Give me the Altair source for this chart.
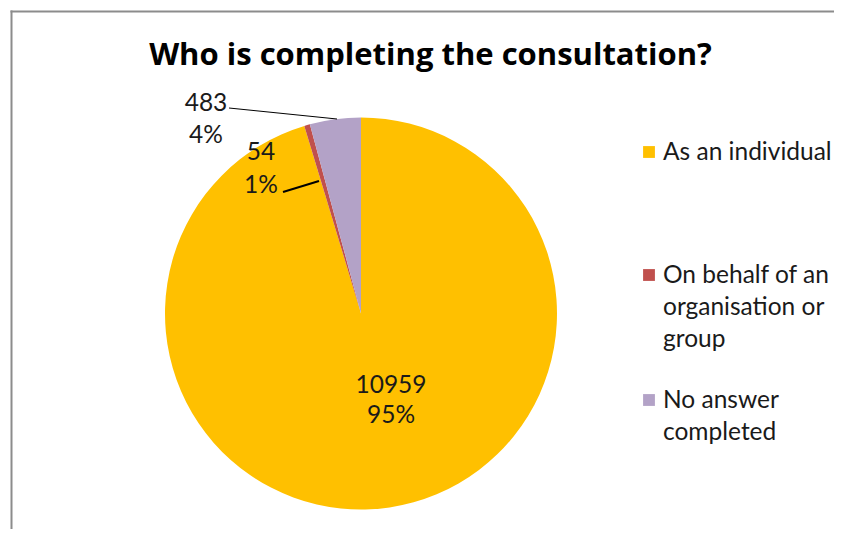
import altair as alt
import pandas as pd

# ---- data ----
categories = ["As an individual", "On behalf of an organisation or group", "No answer completed"]
counts = [10959, 54, 483]
pct_labels = ["95%", "1%", "4%"]
legend_lines = [["As an individual"], ["On behalf of an", "organisation or", "group"], ["No answer", "completed"]]
colors = ["#FFC000", "#C0504D", "#B3A2C7"]
title_text = "Who is completing the consultation?"

FONT = "Lato"
TITLE_FONT = "Open Sans"

df = pd.DataFrame({
    "category": categories,
    "count": counts,
    "pct": pct_labels,
    "order": list(range(len(categories))),
})
df["label"] = [f"{c}\n{p}" for c, p in zip(counts, pct_labels)]

color_scale = alt.Scale(domain=categories, range=colors)

CX, CY, R = 353, 305.5, 196

base = alt.Chart(df)

pie = base.mark_arc(outerRadius=R).encode(
    theta=alt.Theta("count:Q", stack=True),
    color=alt.Color("category:N", scale=color_scale, legend=None),
    order=alt.Order("order:Q"),
    x=alt.value(CX),
    y=alt.value(CY),
)

one = pd.DataFrame({"a": [0]})
border_top = alt.Chart(one).mark_rule(color="#8c8c8c", strokeWidth=2).encode(
    x=alt.value(2.5), x2=alt.value(1200), y=alt.value(3.5))
border_left = alt.Chart(one).mark_rule(color="#8c8c8c", strokeWidth=2).encode(
    x=alt.value(3.5), y=alt.value(2.5), y2=alt.value(1200))

title = alt.Chart(pd.DataFrame({"t": [title_text]})).mark_text(
    font=TITLE_FONT, fontSize=31, fontWeight="bold", color="#000000", align="center", baseline="alphabetic"
).encode(text="t:N", x=alt.value(422.5), y=alt.value(57))

label_pos = {
    categories[0]: (383, 385, 30),
    categories[1]: (253, 152, 33),
    categories[2]: (198, 103, 32),
}
label_layers = []
for cat, (lx, ly, lh) in label_pos.items():
    label_layers.append(
        base.transform_filter(alt.datum.category == cat).mark_text(
            font=FONT, fontSize=24.5, color="#1a1a1a", align="center", baseline="alphabetic",
            lineBreak="\n", lineHeight=lh,
        ).encode(text="label:N", x=alt.value(lx), y=alt.value(ly))
    )

leader1 = alt.Chart(one).mark_rule(color="#000000", strokeWidth=1).encode(
    x=alt.value(221), y=alt.value(100), x2=alt.value(329), y2=alt.value(111))
leader2 = alt.Chart(one).mark_rule(color="#000000", strokeWidth=2).encode(
    x=alt.value(275), y=alt.value(184), x2=alt.value(311), y2=alt.value(173))

leg_df = pd.DataFrame({"category": categories, "lines": legend_lines})
legend_y = {categories[0]: 152, categories[1]: 275, categories[2]: 400}
legend_layers = []
for cat, yb in legend_y.items():
    sub = alt.Chart(leg_df).transform_filter(alt.datum.category == cat)
    legend_layers.append(
        sub.mark_square(size=140, opacity=1, filled=True).encode(
            color=alt.Color("category:N", scale=color_scale, legend=None),
            x=alt.value(641), y=alt.value(yb - 8))
    )
    legend_layers.append(
        sub.mark_text(font=FONT, fontSize=24.5, color="#1a1a1a", align="left", baseline="alphabetic",
                      lineHeight=32).encode(
            text="lines", x=alt.value(655), y=alt.value(yb))
    )

chart = alt.layer(border_top, border_left, pie, title, *label_layers, leader1, leader2,
                  *legend_layers).properties(
    width=826, height=521, autosize=alt.AutoSizeParams(type="none"), padding=0
).configure_view(stroke=None)

chart.save("out.html", embed_options={"renderer": "svg", "actions": False})
